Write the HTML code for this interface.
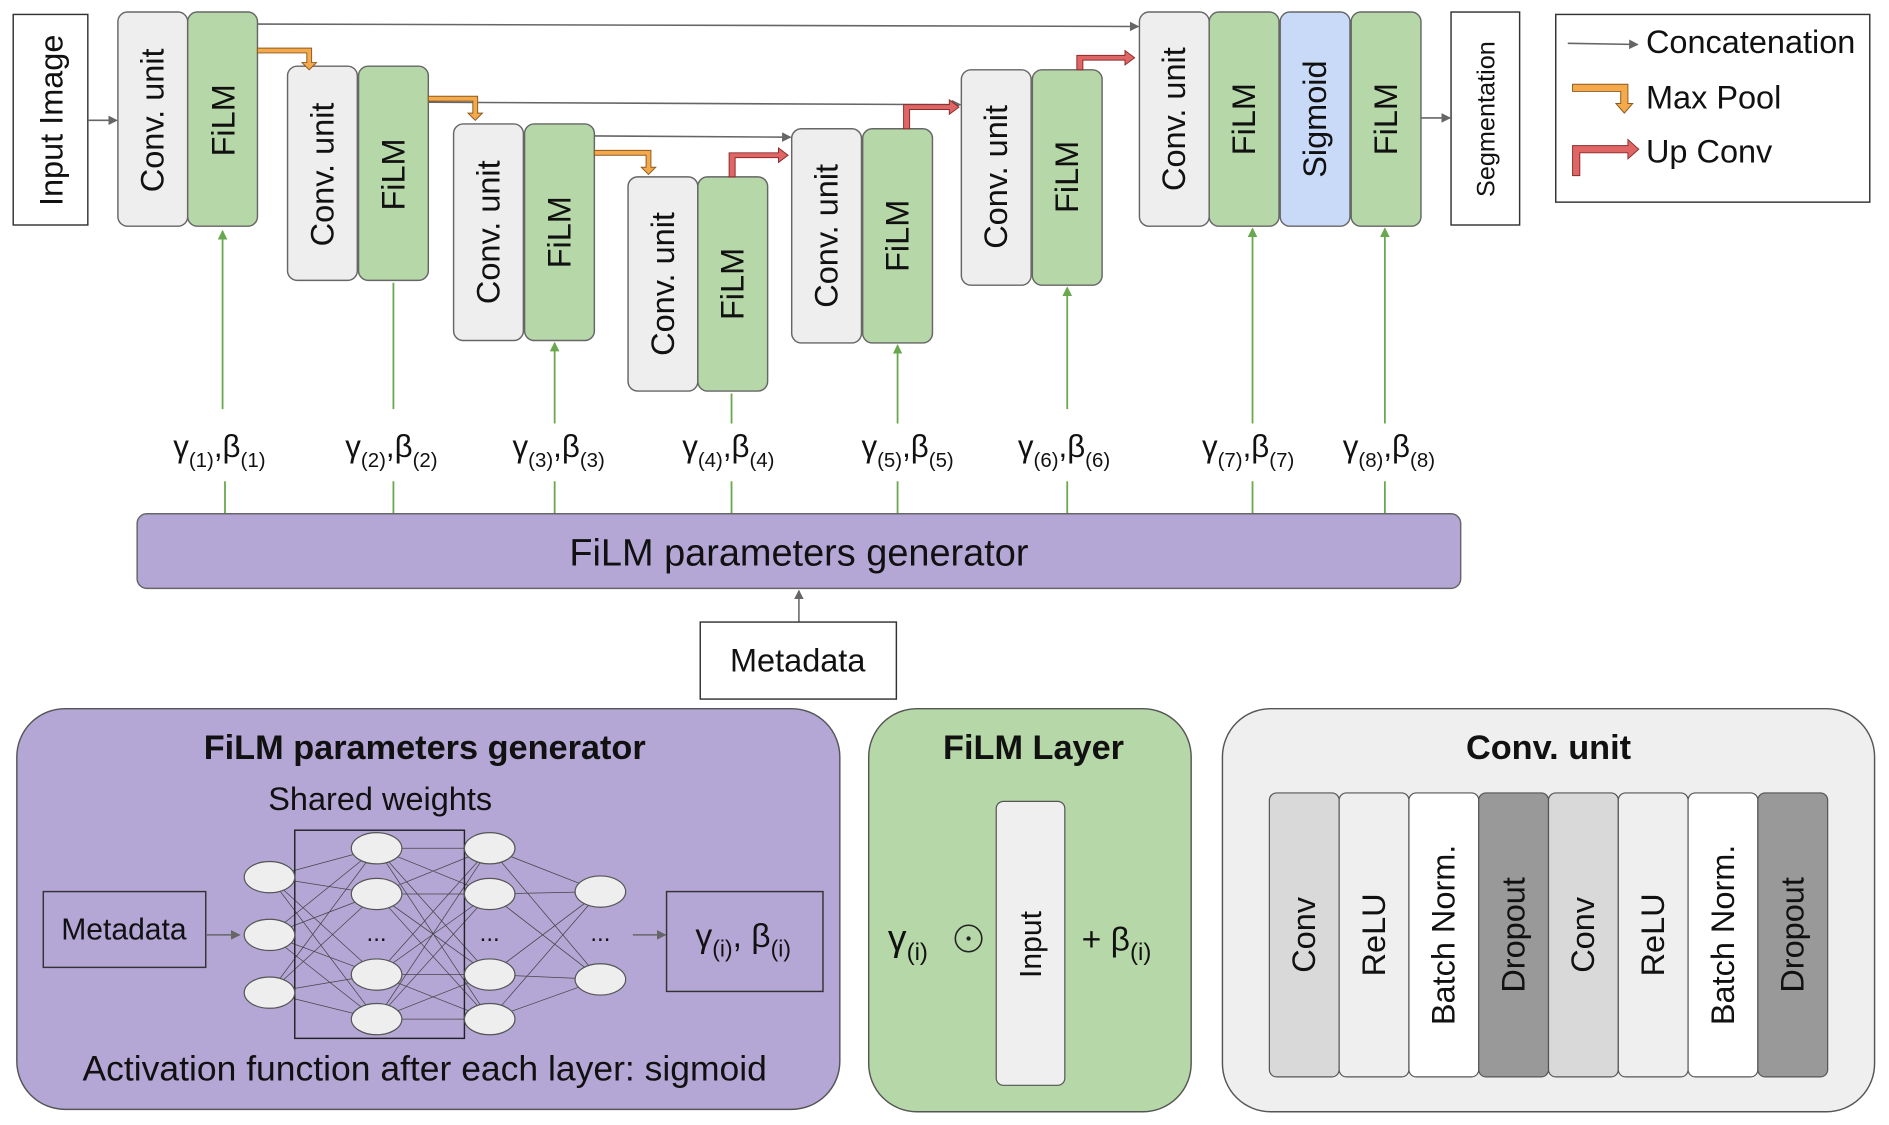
<!DOCTYPE html>
<html><head><meta charset="utf-8"><style>
html,body{margin:0;padding:0;background:#fff;}
svg{display:block;}
text{font-family:"Liberation Sans",sans-serif;fill:#111;}
</style></head><body>
<svg width="1889" height="1125" viewBox="0 0 1568 935" xmlns="http://www.w3.org/2000/svg">
<defs>
<marker id="ga" markerWidth="8" markerHeight="8" refX="7" refY="4" orient="auto" markerUnits="userSpaceOnUse"><path d="M0,0 L8,4 L0,8 z" fill="#666"/></marker>
<marker id="gn" markerWidth="8" markerHeight="8" refX="7" refY="4" orient="auto" markerUnits="userSpaceOnUse"><path d="M0,0 L8,4 L0,8 z" fill="#6aa84f"/></marker>
</defs>
<g stroke="#666" stroke-width="1.2">
<rect x="10" y="12" width="62" height="175" fill="#fff" stroke="#333"/>
<rect x="97" y="10" width="58" height="178" rx="8" fill="#eee"/>
<rect x="155" y="10" width="58" height="178" rx="8" fill="#b6d7a8"/>
<rect x="238" y="55" width="58" height="178" rx="8" fill="#eee"/>
<rect x="297" y="55" width="58" height="178" rx="8" fill="#b6d7a8"/>
<rect x="376" y="103" width="58" height="180" rx="8" fill="#eee"/>
<rect x="435" y="103" width="58" height="180" rx="8" fill="#b6d7a8"/>
<rect x="521" y="147" width="58" height="178" rx="8" fill="#eee"/>
<rect x="579" y="147" width="58" height="178" rx="8" fill="#b6d7a8"/>
<rect x="657" y="107" width="58" height="178" rx="8" fill="#eee"/>
<rect x="716" y="107" width="58" height="178" rx="8" fill="#b6d7a8"/>
<rect x="798" y="58" width="58" height="179" rx="8" fill="#eee"/>
<rect x="857" y="58" width="58" height="179" rx="8" fill="#b6d7a8"/>
<rect x="946" y="10" width="58" height="178" rx="8" fill="#eee"/>
<rect x="1004" y="10" width="58" height="178" rx="8" fill="#b6d7a8"/>
<rect x="1063" y="10" width="58" height="178" rx="8" fill="#c9daf8"/>
<rect x="1122" y="10" width="58" height="178" rx="8" fill="#b6d7a8"/>
<rect x="1205" y="10" width="57" height="177" fill="#fff" stroke="#333"/>
<rect x="1292" y="12" width="261" height="156" fill="#fff" stroke="#333"/>
</g>
<g stroke="#666" stroke-width="1.3" fill="none" marker-end="url(#ga)">
<line x1="72" y1="100" x2="96" y2="100"/>
<line x1="213" y1="20" x2="945" y2="22"/>
<line x1="355" y1="85" x2="797" y2="87"/>
<line x1="493" y1="113" x2="656" y2="114"/>
<line x1="1180" y1="98" x2="1204" y2="98"/>
<line x1="1302" y1="36" x2="1360" y2="37"/>
</g>
<g fill="#f6a94a" stroke="#8a5a20" stroke-width="0.8">
<path d="M213,40 H258 V52 H262 L256,58 L250,52 H254 V44 H213 Z"/>
<path d="M355,80 H396 V94 H400 L394,100 L388,94 H392 V84 H355 Z"/>
<path d="M493,125 H540 V139 H544 L538,145 L532,139 H536 V129 H493 Z"/>
<path d="M1306,70 H1352 V86 H1356 L1349,94 L1342,86 H1346 V76 H1306 Z"/>
</g>
<g fill="#e06666" stroke="#8a2a2a" stroke-width="0.8">
<path d="M605,147 V127 H646 V123 L654,129 L646,135 V131 H610 V147 Z"/>
<path d="M750,107 V87 H788 V83 L796,89 L788,95 V91 H755 V107 Z"/>
<path d="M894,58 V46 H934 V42 L942,48 L934,54 V50 H899 V58 Z"/>
<path d="M1306,146 V121 H1352 V116 L1361,124 L1352,132 V127 H1312 V146 Z"/>
</g>
<g font-size="27" text-anchor="middle">
<text transform="translate(51,100) rotate(-90)">Input Image</text>
<text transform="translate(135,100) rotate(-90)">Conv. unit</text>
<text transform="translate(194,100) rotate(-90)">FiLM</text>
<text transform="translate(276,145) rotate(-90)">Conv. unit</text>
<text transform="translate(335,145) rotate(-90)">FiLM</text>
<text transform="translate(414,193) rotate(-90)">Conv. unit</text>
<text transform="translate(473,193) rotate(-90)">FiLM</text>
<text transform="translate(559,236) rotate(-90)">Conv. unit</text>
<text transform="translate(617,236) rotate(-90)">FiLM</text>
<text transform="translate(695,196) rotate(-90)">Conv. unit</text>
<text transform="translate(754,196) rotate(-90)">FiLM</text>
<text transform="translate(836,147) rotate(-90)">Conv. unit</text>
<text transform="translate(895,147) rotate(-90)">FiLM</text>
<text transform="translate(984,99) rotate(-90)">Conv. unit</text>
<text transform="translate(1042,99) rotate(-90)">FiLM</text>
<text transform="translate(1101,99) rotate(-90)">Sigmoid</text>
<text transform="translate(1160,99) rotate(-90)">FiLM</text>
<text transform="translate(1241,99) rotate(-90)" font-size="21">Segmentation</text>
</g>
<g font-size="27">
<text x="1367" y="44">Concatenation</text>
<text x="1367" y="90">Max Pool</text>
<text x="1367" y="135">Up Conv</text>
</g>
<g stroke="#6aa84f" stroke-width="1.5">
<line x1="184" y1="340" x2="184" y2="192" marker-end="url(#gn)"/>
<line x1="326" y1="340" x2="326" y2="235"/>
<line x1="460" y1="352" x2="460" y2="285" marker-end="url(#gn)"/>
<line x1="607" y1="352" x2="607" y2="327"/>
<line x1="745" y1="352" x2="745" y2="287" marker-end="url(#gn)"/>
<line x1="886" y1="340" x2="886" y2="239" marker-end="url(#gn)"/>
<line x1="1040" y1="352" x2="1040" y2="190" marker-end="url(#gn)"/>
<line x1="1150" y1="352" x2="1150" y2="190" marker-end="url(#gn)"/>
<line x1="186" y1="400" x2="186" y2="427"/><line x1="326" y1="400" x2="326" y2="427"/>
<line x1="460" y1="400" x2="460" y2="427"/><line x1="607" y1="400" x2="607" y2="427"/>
<line x1="745" y1="400" x2="745" y2="427"/><line x1="886" y1="400" x2="886" y2="427"/>
<line x1="1040" y1="400" x2="1040" y2="427"/><line x1="1150" y1="400" x2="1150" y2="427"/>
</g>
<g font-size="26">
<text x="143" y="380">γ<tspan font-size="17" dy="8">(1)</tspan><tspan dy="-8">,β</tspan><tspan font-size="17" dy="8">(1)</tspan></text>
<text x="286" y="380">γ<tspan font-size="17" dy="8">(2)</tspan><tspan dy="-8">,β</tspan><tspan font-size="17" dy="8">(2)</tspan></text>
<text x="425" y="380">γ<tspan font-size="17" dy="8">(3)</tspan><tspan dy="-8">,β</tspan><tspan font-size="17" dy="8">(3)</tspan></text>
<text x="566" y="380">γ<tspan font-size="17" dy="8">(4)</tspan><tspan dy="-8">,β</tspan><tspan font-size="17" dy="8">(4)</tspan></text>
<text x="715" y="380">γ<tspan font-size="17" dy="8">(5)</tspan><tspan dy="-8">,β</tspan><tspan font-size="17" dy="8">(5)</tspan></text>
<text x="845" y="380">γ<tspan font-size="17" dy="8">(6)</tspan><tspan dy="-8">,β</tspan><tspan font-size="17" dy="8">(6)</tspan></text>
<text x="998" y="380">γ<tspan font-size="17" dy="8">(7)</tspan><tspan dy="-8">,β</tspan><tspan font-size="17" dy="8">(7)</tspan></text>
<text x="1115" y="380">γ<tspan font-size="17" dy="8">(8)</tspan><tspan dy="-8">,β</tspan><tspan font-size="17" dy="8">(8)</tspan></text>
</g>
<rect x="113" y="427" width="1100" height="62" rx="8" fill="#b4a7d6" stroke="#666" stroke-width="1.2"/>
<text x="663" y="470" font-size="31.5" text-anchor="middle">FiLM parameters generator</text>
<line x1="663" y1="517" x2="663" y2="491" stroke="#666" stroke-width="1.3" marker-end="url(#ga)"/>
<rect x="581" y="517" width="163" height="64" fill="#fff" stroke="#333" stroke-width="1.2"/>
<text x="662" y="558" font-size="27" text-anchor="middle">Metadata</text>
<rect x="13" y="589" width="684" height="333" rx="40" fill="#b4a7d6" stroke="#555" stroke-width="1.2"/>
<rect x="721" y="589" width="268" height="335" rx="40" fill="#b6d7a8" stroke="#555" stroke-width="1.2"/>
<rect x="1015" y="589" width="542" height="335" rx="40" fill="#efefef" stroke="#555" stroke-width="1.2"/>
<g font-size="28.5" font-weight="bold" text-anchor="middle">
<text x="352" y="631">FiLM parameters generator</text>
<text x="858" y="631">FiLM Layer</text>
<text x="1286" y="631">Conv. unit</text>
</g>
<text x="315" y="673" font-size="27" text-anchor="middle">Shared weights</text>
<text x="352" y="898" font-size="29.5" text-anchor="middle">Activation function after each layer: sigmoid</text>
<g stroke="#444" stroke-width="0.6">
<path d="M223,729 L312,705 M223,729 L312,743 M223,729 L312,810 M223,729 L312,847 M223,777 L312,705 M223,777 L312,743 M223,777 L312,810 M223,777 L312,847 M223,825 L312,705 M223,825 L312,743 M223,825 L312,810 M223,825 L312,847
M312,705 L406,705 M312,705 L406,743 M312,705 L406,810 M312,705 L406,847 M312,743 L406,705 M312,743 L406,743 M312,743 L406,810 M312,743 L406,847 M312,810 L406,705 M312,810 L406,743 M312,810 L406,810 M312,810 L406,847 M312,847 L406,705 M312,847 L406,743 M312,847 L406,810 M312,847 L406,847
M406,705 L498,741 M406,705 L498,814 M406,743 L498,741 M406,743 L498,814 M406,810 L498,741 M406,810 L498,814 M406,847 L498,741 M406,847 L498,814"/>
</g>
<rect x="244" y="690" width="141" height="173" fill="none" stroke="#222" stroke-width="1.2"/>
<g fill="#eee" stroke="#555" stroke-width="1">
<ellipse cx="223" cy="729" rx="21" ry="13"/><ellipse cx="223" cy="777" rx="21" ry="13"/><ellipse cx="223" cy="825" rx="21" ry="13"/>
<ellipse cx="312" cy="705" rx="21" ry="13"/><ellipse cx="312" cy="743" rx="21" ry="13"/><ellipse cx="312" cy="810" rx="21" ry="13"/><ellipse cx="312" cy="847" rx="21" ry="13"/>
<ellipse cx="406" cy="705" rx="21" ry="13"/><ellipse cx="406" cy="743" rx="21" ry="13"/><ellipse cx="406" cy="810" rx="21" ry="13"/><ellipse cx="406" cy="847" rx="21" ry="13"/>
<ellipse cx="498" cy="741" rx="21" ry="13"/><ellipse cx="498" cy="814" rx="21" ry="13"/>
</g>
<g font-size="20" text-anchor="middle"><text x="312" y="782">...</text><text x="406" y="782">...</text><text x="498" y="782">...</text></g>
<rect x="35" y="741" width="135" height="63" fill="none" stroke="#333" stroke-width="1.2"/>
<text x="102" y="781" font-size="25" text-anchor="middle">Metadata</text>
<line x1="171" y1="777" x2="198" y2="777" stroke="#666" stroke-width="1.3" marker-end="url(#ga)"/>
<line x1="525" y1="777" x2="552" y2="777" stroke="#666" stroke-width="1.3" marker-end="url(#ga)"/>
<rect x="553" y="741" width="130" height="83" fill="none" stroke="#333" stroke-width="1.2"/>
<text x="577" y="787" font-size="28">γ<tspan font-size="19" dy="8">(i)</tspan><tspan dy="-8">, β</tspan><tspan font-size="19" dy="8">(i)</tspan></text>
<rect x="827" y="666" width="57" height="236" rx="6" fill="#efefef" stroke="#555" stroke-width="1"/>
<text transform="translate(864,785) rotate(-90)" font-size="25" text-anchor="middle">Input</text>
<text x="737" y="790" font-size="31">γ<tspan font-size="20" dy="8">(i)</tspan></text>
<circle cx="804" cy="780" r="11" fill="none" stroke="#222" stroke-width="1.3"/><circle cx="804" cy="780" r="1.8" fill="#222"/>
<text x="898" y="790" font-size="28">+  β<tspan font-size="20" dy="8">(i)</tspan></text>
<g stroke="#555" stroke-width="1">
<rect x="1054" y="659" width="58" height="236" rx="6" fill="#d9d9d9"/>
<rect x="1112" y="659" width="58" height="236" rx="6" fill="#efefef"/>
<rect x="1170" y="659" width="58" height="236" rx="6" fill="#fff"/>
<rect x="1228" y="659" width="58" height="236" rx="6" fill="#999"/>
<rect x="1286" y="659" width="58" height="236" rx="6" fill="#d9d9d9"/>
<rect x="1344" y="659" width="58" height="236" rx="6" fill="#efefef"/>
<rect x="1402" y="659" width="58" height="236" rx="6" fill="#fff"/>
<rect x="1460" y="659" width="58" height="236" rx="6" fill="#999"/>
</g>
<g font-size="27" text-anchor="middle">
<text transform="translate(1092,777) rotate(-90)">Conv</text>
<text transform="translate(1150,777) rotate(-90)">ReLU</text>
<text transform="translate(1208,777) rotate(-90)">Batch Norm.</text>
<text transform="translate(1266,777) rotate(-90)">Dropout</text>
<text transform="translate(1324,777) rotate(-90)">Conv</text>
<text transform="translate(1382,777) rotate(-90)">ReLU</text>
<text transform="translate(1440,777) rotate(-90)">Batch Norm.</text>
<text transform="translate(1498,777) rotate(-90)">Dropout</text>
</g>
</svg>
</body></html>
